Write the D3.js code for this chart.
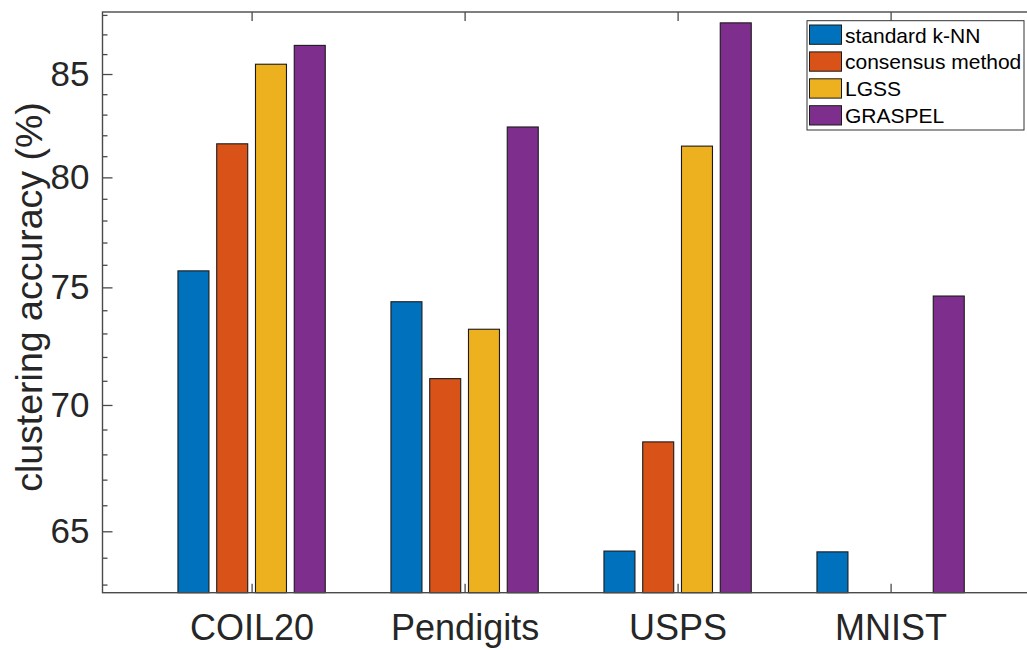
<!DOCTYPE html>
<html>
<head>
<meta charset="utf-8">
<script src="https://cdn.jsdelivr.net/npm/d3@7"></script>
<style>
  body { margin: 0; background: #fff; }
  svg { display: block; }
  text { font-family: "Liberation Sans", Arial, Helvetica, sans-serif; }
</style>
</head>
<body>
<script>
// data
var datasets = ["COIL20", "Pendigits", "USPS", "MNIST"];
var methods = ["standard k-NN", "consensus method", "LGSS", "GRASPEL"];
var colors = ["#0072BD", "#D95319", "#EDB120", "#7E2F8E"];
var knn = [75.73, 74.37, 64.25, 64.22];
var consensus = [81.59, 71.09, 68.50, null];
var lgss = [85.49, 73.18, 81.48, null];
var graspel = [86.44, 82.40, 87.59, 74.62];
var majorTicks = [65, 70, 75, 80, 85];
var minorTicks = d3.range(63, 89).filter(function(v){ return majorTicks.indexOf(v) < 0; });

var series = [knn, consensus, lgss, graspel];

var W = 1027, H = 650;
// note: "top" is a reserved window prop, so use ax_* names
var ax_left = 102.5, ax_right = 1039.7, ax_top = 12, ax_bottom = 592.7;
var axisColor = "#4a4a4a";

var svg = d3.select("body").append("svg")
	.attr("width", W)
	.attr("height", H);

var x = d3.scaleLinear().domain([0.3, 4.7]).range([ax_left, ax_right]);
var y = d3.scaleLog().domain([62.7, 88.15]).range([ax_bottom, ax_top]);

// matlab grouped bar layout: 4 bars per group
var step = 0.182;
var barW = 0.1455;

var bars = svg.append("g");
series.forEach(function(vals, j){
	vals.forEach(function(v, i){
		if(v === null) return;
		var cx = (i + 1) + (j - 1.5) * step;
		bars.append("rect")
			.attr("x", x(cx - barW / 2))
			.attr("y", y(v))
			.attr("width", x(cx + barW / 2) - x(cx - barW / 2))
			.attr("height", ax_bottom - y(v))
			.attr("fill", colors[j])
			.attr("stroke", "#1a1a1a")
			.attr("stroke-width", 1.1);
	});
});

// axes
var styleAxis = function(g){
	g.select(".domain").remove();
	g.selectAll(".tick line").attr("stroke", axisColor).attr("stroke-width", 1.3);
	g.selectAll(".tick text")
		.attr("fill", "#262626")
		.attr("font-size", "35px");
};

var yMajor = d3.axisLeft(y).tickValues(majorTicks).tickSize(-10).tickPadding(13).tickFormat(d3.format("d"));
var yMinor = d3.axisLeft(y).tickValues(minorTicks).tickSize(-5).tickFormat("");
svg.append("g").attr("transform", "translate(" + ax_left + ",0)").call(yMajor).call(styleAxis);
svg.append("g").attr("transform", "translate(" + ax_left + ",0)").call(yMinor).call(styleAxis);
svg.append("g").attr("transform", "translate(" + ax_right + ",0)")
	.call(d3.axisRight(y).tickValues(majorTicks).tickSize(-10).tickFormat("")).call(styleAxis);
svg.append("g").attr("transform", "translate(" + ax_right + ",0)")
	.call(d3.axisRight(y).tickValues(minorTicks).tickSize(-5).tickFormat("")).call(styleAxis);

var xBottom = d3.axisBottom(x).tickValues([1, 2, 3, 4]).tickSize(-9)
	.tickFormat(function(d){ return datasets[d - 1]; });
svg.append("g").attr("transform", "translate(0," + ax_bottom + ")").call(xBottom).call(styleAxis)
	.selectAll(".tick text").attr("dy", "0.71em").attr("y", 22).attr("font-size", "36px");
svg.append("g").attr("transform", "translate(0," + ax_top + ")")
	.call(d3.axisTop(x).tickValues([1, 2, 3, 4]).tickSize(-9).tickFormat("")).call(styleAxis);

// box
svg.append("rect")
	.attr("x", ax_left).attr("y", ax_top)
	.attr("width", ax_right - ax_left).attr("height", ax_bottom - ax_top)
	.attr("fill", "none")
	.attr("stroke", axisColor)
	.attr("stroke-width", 1.4);

// y label
svg.append("text")
	.attr("transform", "translate(42,297) rotate(-90)")
	.attr("text-anchor", "middle")
	.attr("fill", "#262626")
	.attr("font-size", "37.5px")
	.text("clustering accuracy (%)");

// legend
var legend = svg.append("g");
legend.append("rect")
	.attr("x", 807).attr("y", 20.7)
	.attr("width", 217).attr("height", 109.3)
	.attr("fill", "#fff")
	.attr("stroke", "#333")
	.attr("stroke-width", 1);
methods.forEach(function(m, j){
	var ly = 25 + j * 26.9;
	legend.append("rect")
		.attr("x", 809.5).attr("y", ly)
		.attr("width", 32).attr("height", 19.3)
		.attr("fill", colors[j])
		.attr("stroke", "#1a1a1a")
		.attr("stroke-width", 1);
	legend.append("text")
		.attr("x", 845).attr("y", ly + 17.5)
		.attr("fill", "#000")
		.attr("font-size", "21px")
		.text(m);
});
</script>
</body>
</html>
